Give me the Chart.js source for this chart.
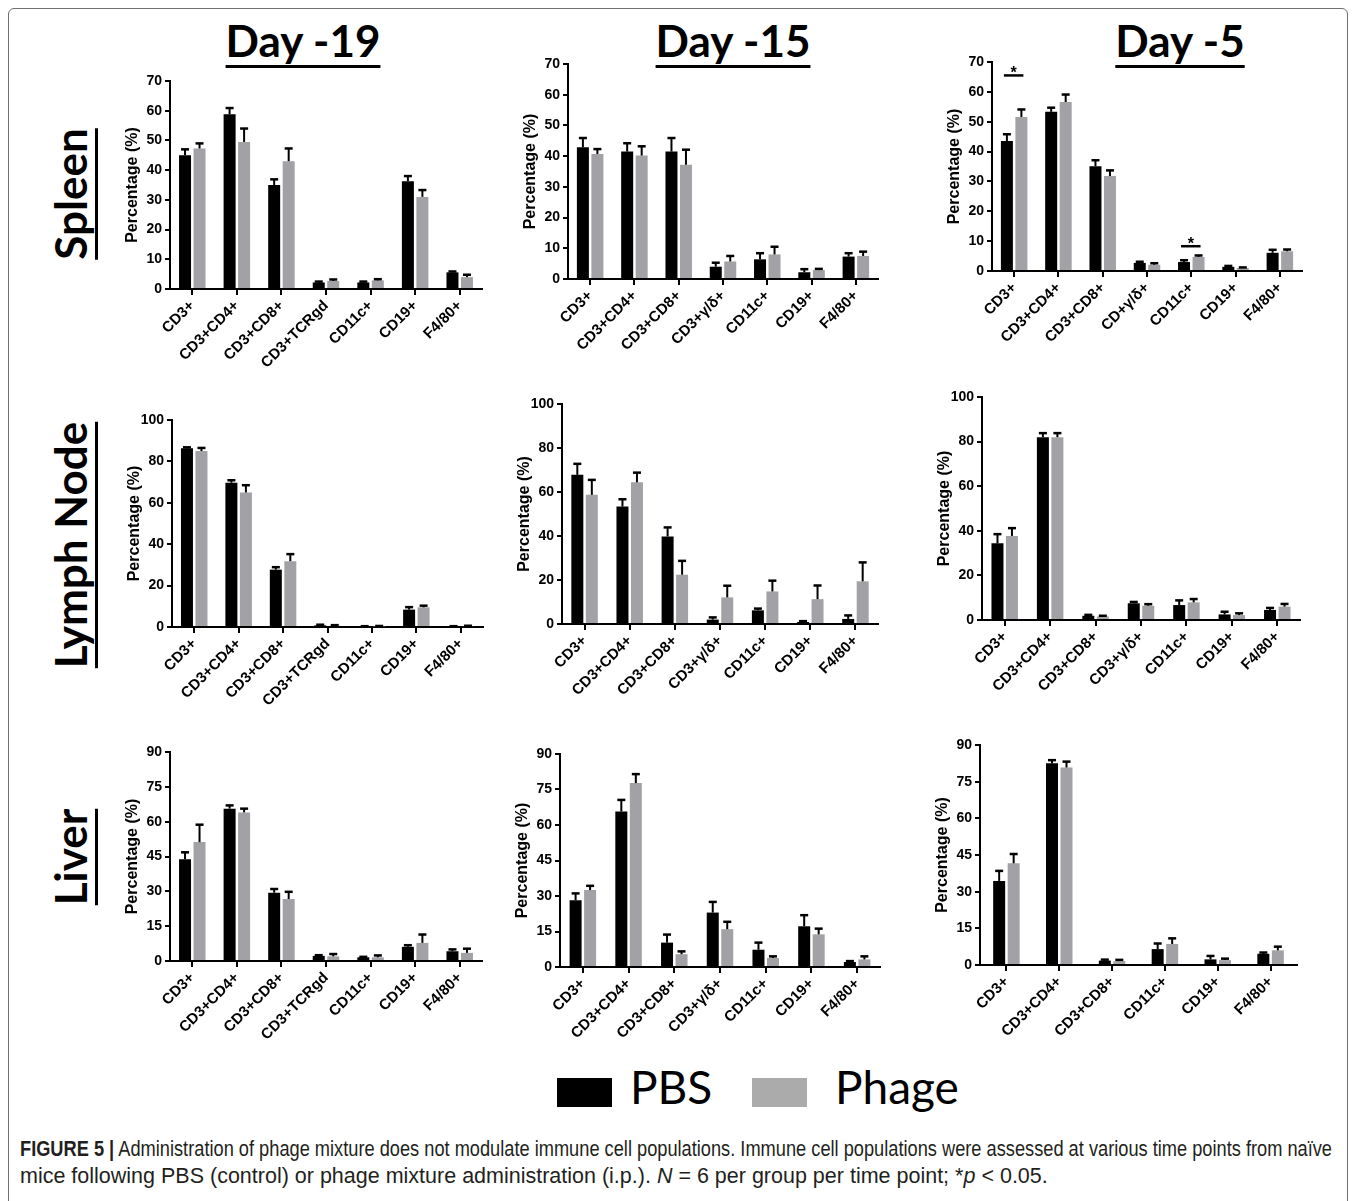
<!DOCTYPE html>
<html>
<head>
<meta charset="utf-8">
<script src="https://cdn.jsdelivr.net/npm/chart.js@4.4.1/dist/chart.umd.min.js"></script>
<style>
  html, body { margin: 0; padding: 0; background: #fff; }
  body { width: 1357px; height: 1201px; position: relative; overflow: hidden; }
  #frame { position: absolute; left: 8px; top: 8px; width: 1340px; height: 1200px;
           border: 1px solid #6f6f6f; border-radius: 6px; box-sizing: border-box; }
  .col, .row { position: absolute; font-family: Lato, "Open Sans", sans-serif; font-weight: 700;
               font-size: 44px; line-height: 44px; color: #000; white-space: nowrap;
               text-decoration: underline; text-decoration-thickness: 3px; text-underline-offset: 8px; }
  .col { top: 18px; transform: translateX(-50%); }
  .row { transform: translate(-50%, -50%) rotate(-90deg); }
  .key { position: absolute; width: 55px; height: 29px; }
  .keytxt { position: absolute; top: 1064px; font-family: Lato, sans-serif; font-size: 46px; line-height: 46px; color: #000; }
  .cap { position: absolute; left: 20px; width: max-content; font-family: "Liberation Sans", Arial, sans-serif;
         font-size: 21.5px; line-height: 27px; color: #231f20; white-space: nowrap; transform-origin: 0 50%; }
  canvas { position: absolute; }
</style>
</head>
<body>
<div id="frame"></div>

<div class="col" style="left:303px">Day -19</div>
<div class="col" style="left:733px">Day -15</div>
<div class="col" style="left:1180px">Day -5</div>

<div class="row" style="left:70px; top:194px">Spleen</div>
<div class="row" style="left:70px; top:545px">Lymph Node</div>
<div class="row" style="left:70px; top:857px">Liver</div>

<div class="key" style="left:557px; top:1078px; background:#000"></div>
<div class="keytxt" style="left:630px">PBS</div>
<div class="key" style="left:752px; top:1078px; background:#ababab"></div>
<div class="keytxt" style="left:835px">Phage</div>

<div class="cap" id="cap1" style="top:1136px"><b>FIGURE 5 |</b> Administration of phage mixture does not modulate immune cell populations. Immune cell populations were assessed at various time points from naïve</div>
<div class="cap" id="cap2" style="top:1163px">mice following PBS (control) or phage mixture administration (i.p.). <i>N</i> = 6 per group per time point; *<i>p</i> &lt; 0.05.</div>

<script>
// categories
const catsTCR = ["CD3+", "CD3+CD4+", "CD3+CD8+", "CD3+TCRgd", "CD11c+", "CD19+", "F4/80+"];
const catsGD = ["CD3+", "CD3+CD4+", "CD3+CD8+", "CD3+γ/δ+", "CD11c+", "CD19+", "F4/80+"];
const catsCDGD = ["CD3+", "CD3+CD4+", "CD3+CD8+", "CD+γ/δ+", "CD11c+", "CD19+", "F4/80+"];
const catsLiverD5 = ["CD3+", "CD3+CD4+", "CD3+CD8+", "CD11c+", "CD19+", "F4/80+"];

// spleen
const spleenD19Pbs = [45.0, 58.8, 35.0, 2.2, 2.2, 36.3, 5.6];
const spleenD19PbsErr = [2.0, 2.1, 1.9, 0.3, 0.3, 1.7, 0.3];
const spleenD19Phage = [47.3, 49.5, 43.0, 2.7, 2.9, 31.0, 4.0];
const spleenD19PhageErr = [1.7, 4.5, 4.3, 0.5, 0.4, 2.3, 0.8];

const spleenD15Pbs = [42.9, 41.5, 41.5, 4.0, 6.4, 2.2, 7.3];
const spleenD15PbsErr = [3.0, 2.7, 4.4, 1.3, 2.0, 1.0, 1.1];
const spleenD15Phage = [40.7, 40.2, 37.2, 5.7, 8.0, 2.9, 7.5];
const spleenD15PhageErr = [1.6, 3.0, 4.9, 1.8, 2.5, 0.4, 1.4];

const spleenD5Pbs = [43.5, 53.3, 35.1, 2.7, 3.0, 1.4, 6.1];
const spleenD5PbsErr = [2.3, 1.4, 2.0, 0.4, 0.6, 0.3, 1.0];
const spleenD5Phage = [51.6, 56.6, 31.8, 2.1, 4.7, 1.0, 6.6];
const spleenD5PhageErr = [2.5, 2.5, 1.9, 0.5, 0.5, 0.2, 0.6];
const spleenD5SigCats = [0, 4];
const spleenD5SigLevels = [65.5, 8.3];

// lymph node
const lnD19Pbs = [86.3, 69.7, 27.7, 0.8, 0.3, 8.4, 0.3];
const lnD19PbsErr = [0.5, 1.2, 1.2, 0.3, 0.1, 1.2, 0.1];
const lnD19Phage = [85.0, 65.0, 31.8, 0.6, 0.3, 9.5, 0.4];
const lnD19PhageErr = [1.5, 3.5, 3.4, 0.3, 0.2, 0.8, 0.2];

const lnD15Pbs = [67.8, 53.4, 39.8, 2.0, 6.2, 0.9, 2.3];
const lnD15PbsErr = [5.0, 3.3, 4.1, 1.0, 0.8, 0.4, 1.6];
const lnD15Phage = [58.7, 64.4, 22.4, 12.1, 14.8, 11.3, 19.4];
const lnD15PhageErr = [6.8, 4.4, 6.3, 5.3, 4.9, 6.2, 8.6];

const lnD5Pbs = [34.4, 82.0, 1.9, 7.5, 6.7, 2.5, 4.5];
const lnD5PbsErr = [4.1, 1.8, 0.4, 0.6, 2.1, 1.2, 0.9];
const lnD5Phage = [37.7, 82.0, 1.6, 6.4, 7.9, 2.2, 6.0];
const lnD5PhageErr = [3.5, 1.8, 0.3, 0.7, 1.5, 0.8, 1.2];

// liver
const liverD19Pbs = [43.8, 65.6, 29.4, 2.2, 1.6, 6.1, 4.2];
const liverD19PbsErr = [3.0, 1.4, 1.6, 0.3, 0.2, 0.7, 0.8];
const liverD19Phage = [51.2, 64.0, 26.7, 2.0, 1.6, 7.8, 3.5];
const liverD19PhageErr = [7.5, 1.6, 3.1, 1.0, 0.8, 3.6, 1.8];

const liverD15Pbs = [28.2, 65.7, 10.3, 23.0, 7.3, 17.2, 2.1];
const liverD15PbsErr = [2.9, 4.9, 3.4, 4.5, 3.0, 4.7, 0.4];
const liverD15Phage = [32.5, 77.7, 5.4, 16.0, 3.8, 13.8, 3.2];
const liverD15PhageErr = [1.8, 3.8, 1.2, 3.1, 0.7, 2.4, 1.3];

const liverD5Pbs = [34.4, 82.5, 1.8, 6.5, 2.3, 4.6];
const liverD5PbsErr = [4.1, 1.3, 0.4, 2.3, 1.4, 0.5];
const liverD5Phage = [41.6, 80.8, 1.6, 8.6, 2.0, 6.0];
const liverD5PhageErr = [3.8, 2.4, 0.5, 2.3, 0.6, 1.5];

// y axis ranges per row
const spleenAxis = { max: 70, step: 10 };
const lnAxis = { max: 100, step: 20 };
const liverAxis = { max: 90, step: 15 };

const GRAY = "#a2a2a6";
const FONT = "'Liberation Sans', Arial, sans-serif";

// caption line 1 is set in a condensed face in the original, squeeze it to its width
const cap1 = document.getElementById("cap1");
const capW = cap1.getBoundingClientRect().width;
if (capW > 1312) cap1.style.transform = `scaleX(${1312 / capW})`;

// where each plot area sits on the page (axis x, top tick y, zero y, right end x)
const panels = [
  { cats: catsTCR, pbs: spleenD19Pbs, pbsErr: spleenD19PbsErr, phage: spleenD19Phage, phageErr: spleenD19PhageErr, axis: spleenAxis, ax: 170, top: 81, y0: 289, xr: 482 },
  { cats: catsGD, pbs: spleenD15Pbs, pbsErr: spleenD15PbsErr, phage: spleenD15Phage, phageErr: spleenD15PhageErr, axis: spleenAxis, ax: 568, top: 64, y0: 279, xr: 878 },
  { cats: catsCDGD, pbs: spleenD5Pbs, pbsErr: spleenD5PbsErr, phage: spleenD5Phage, phageErr: spleenD5PhageErr, axis: spleenAxis, ax: 992, top: 62, y0: 271, xr: 1302,
    sig: spleenD5SigCats.map((c, i) => [c, spleenD5SigLevels[i]]) },
  { cats: catsTCR, pbs: lnD19Pbs, pbsErr: lnD19PbsErr, phage: lnD19Phage, phageErr: lnD19PhageErr, axis: lnAxis, ax: 172, top: 420, y0: 627, xr: 483 },
  { cats: catsGD, pbs: lnD15Pbs, pbsErr: lnD15PbsErr, phage: lnD15Phage, phageErr: lnD15PhageErr, axis: lnAxis, ax: 562, top: 404, y0: 624, xr: 878 },
  { cats: catsGD, pbs: lnD5Pbs, pbsErr: lnD5PbsErr, phage: lnD5Phage, phageErr: lnD5PhageErr, axis: lnAxis, ax: 982, top: 397, y0: 620, xr: 1300 },
  { cats: catsTCR, pbs: liverD19Pbs, pbsErr: liverD19PbsErr, phage: liverD19Phage, phageErr: liverD19PhageErr, axis: liverAxis, ax: 170, top: 752, y0: 961, xr: 482 },
  { cats: catsGD, pbs: liverD15Pbs, pbsErr: liverD15PbsErr, phage: liverD15Phage, phageErr: liverD15PhageErr, axis: liverAxis, ax: 560, top: 754, y0: 967, xr: 880 },
  { cats: catsLiverD5, pbs: liverD5Pbs, pbsErr: liverD5PbsErr, phage: liverD5Phage, phageErr: liverD5PhageErr, axis: liverAxis, ax: 980, top: 745, y0: 965, xr: 1297 }
];

// upward-only SEM whiskers, GraphPad style
const errorBars = {
  id: "errorBars",
  afterDatasetsDraw(chart) {
    const { ctx, scales: { y } } = chart;
    ctx.save();
    ctx.strokeStyle = "#000";
    chart.data.datasets.forEach((ds, i) => {
      chart.getDatasetMeta(i).data.forEach((bar, j) => {
        const e = ds.err[j];
        if (!e) return;
        const top = y.getPixelForValue(ds.data[j] + e);
        ctx.lineWidth = 2;
        ctx.beginPath();
        ctx.moveTo(bar.x, bar.y);
        ctx.lineTo(bar.x, top);
        ctx.stroke();
        ctx.lineWidth = 2.5;
        ctx.beginPath();
        ctx.moveTo(bar.x - 4, top);
        ctx.lineTo(bar.x + 4, top);
        ctx.stroke();
      });
    });
    ctx.restore();
  }
};

// significance line + star
const sigMarks = {
  id: "sig",
  afterDatasetsDraw(chart, args, opts) {
    const marks = opts.marks || [];
    if (!marks.length) return;
    const { ctx, scales: { y } } = chart;
    const m0 = chart.getDatasetMeta(0), m1 = chart.getDatasetMeta(1);
    ctx.save();
    marks.forEach(([idx, level]) => {
      const yy = y.getPixelForValue(level);
      const x1 = m0.data[idx].x - 3, x2 = m1.data[idx].x + 2;
      ctx.strokeStyle = "#000";
      ctx.lineWidth = 2.5;
      ctx.beginPath();
      ctx.moveTo(x1, yy);
      ctx.lineTo(x2, yy);
      ctx.stroke();
      ctx.fillStyle = "#000";
      ctx.font = "bold 16px " + FONT;
      ctx.textAlign = "center";
      ctx.textBaseline = "alphabetic";
      ctx.fillText("*", (x1 + x2) / 2, yy + 3);
    });
    ctx.restore();
  }
};

const W = 56, padT = 14, padR = 6, xH = 100;

panels.forEach(p => {
  const cv = document.createElement("canvas");
  const w = p.xr - p.ax + W + padR;
  const h = p.y0 - p.top + padT + xH;
  cv.width = w;
  cv.height = h;
  cv.style.left = (p.ax - W) + "px";
  cv.style.top = (p.top - padT) + "px";
  cv.style.width = w + "px";
  cv.style.height = h + "px";
  document.body.appendChild(cv);

  const catW = (p.xr - p.ax) / p.cats.length;
  const cp = 29 / catW, bp = 12 / 14.5;

  new Chart(cv, {
    type: "bar",
    data: {
      labels: p.cats,
      datasets: [
        { label: "PBS", data: p.pbs, err: p.pbsErr, backgroundColor: "#000", categoryPercentage: cp, barPercentage: bp },
        { label: "Phage", data: p.phage, err: p.phageErr, backgroundColor: GRAY, categoryPercentage: cp, barPercentage: bp }
      ]
    },
    options: {
      responsive: false,
      animation: false,
      devicePixelRatio: 1,
      layout: { padding: { top: padT, right: padR, left: 0, bottom: 0 } },
      plugins: {
        legend: { display: false },
        tooltip: { enabled: false },
        sig: { marks: p.sig || [] }
      },
      scales: {
        x: {
          grid: { offset: false, drawOnChartArea: false, color: "#000", lineWidth: 2, tickLength: 6 },
          border: { color: "#000", width: 2 },
          ticks: { autoSkip: false, minRotation: 45, maxRotation: 45, color: "#000", padding: 2,
                   font: { family: FONT, size: 15, weight: "bold" } },
          afterFit: s => { s.height = xH; }
        },
        y: {
          min: 0,
          max: p.axis.max,
          ticks: { stepSize: p.axis.step, color: "#000", padding: 3,
                   font: { family: FONT, size: 14, weight: "bold" } },
          grid: { drawOnChartArea: false, color: "#000", lineWidth: 2, tickLength: 5 },
          border: { color: "#000", width: 2 },
          title: { display: true, text: "Percentage (%)", color: "#000", padding: { top: 9, bottom: 0 },
                   font: { family: FONT, size: 16, weight: "bold" } },
          afterFit: s => { s.width = W; }
        }
      }
    },
    plugins: [errorBars, sigMarks]
  });
});
</script>
</body>
</html>
